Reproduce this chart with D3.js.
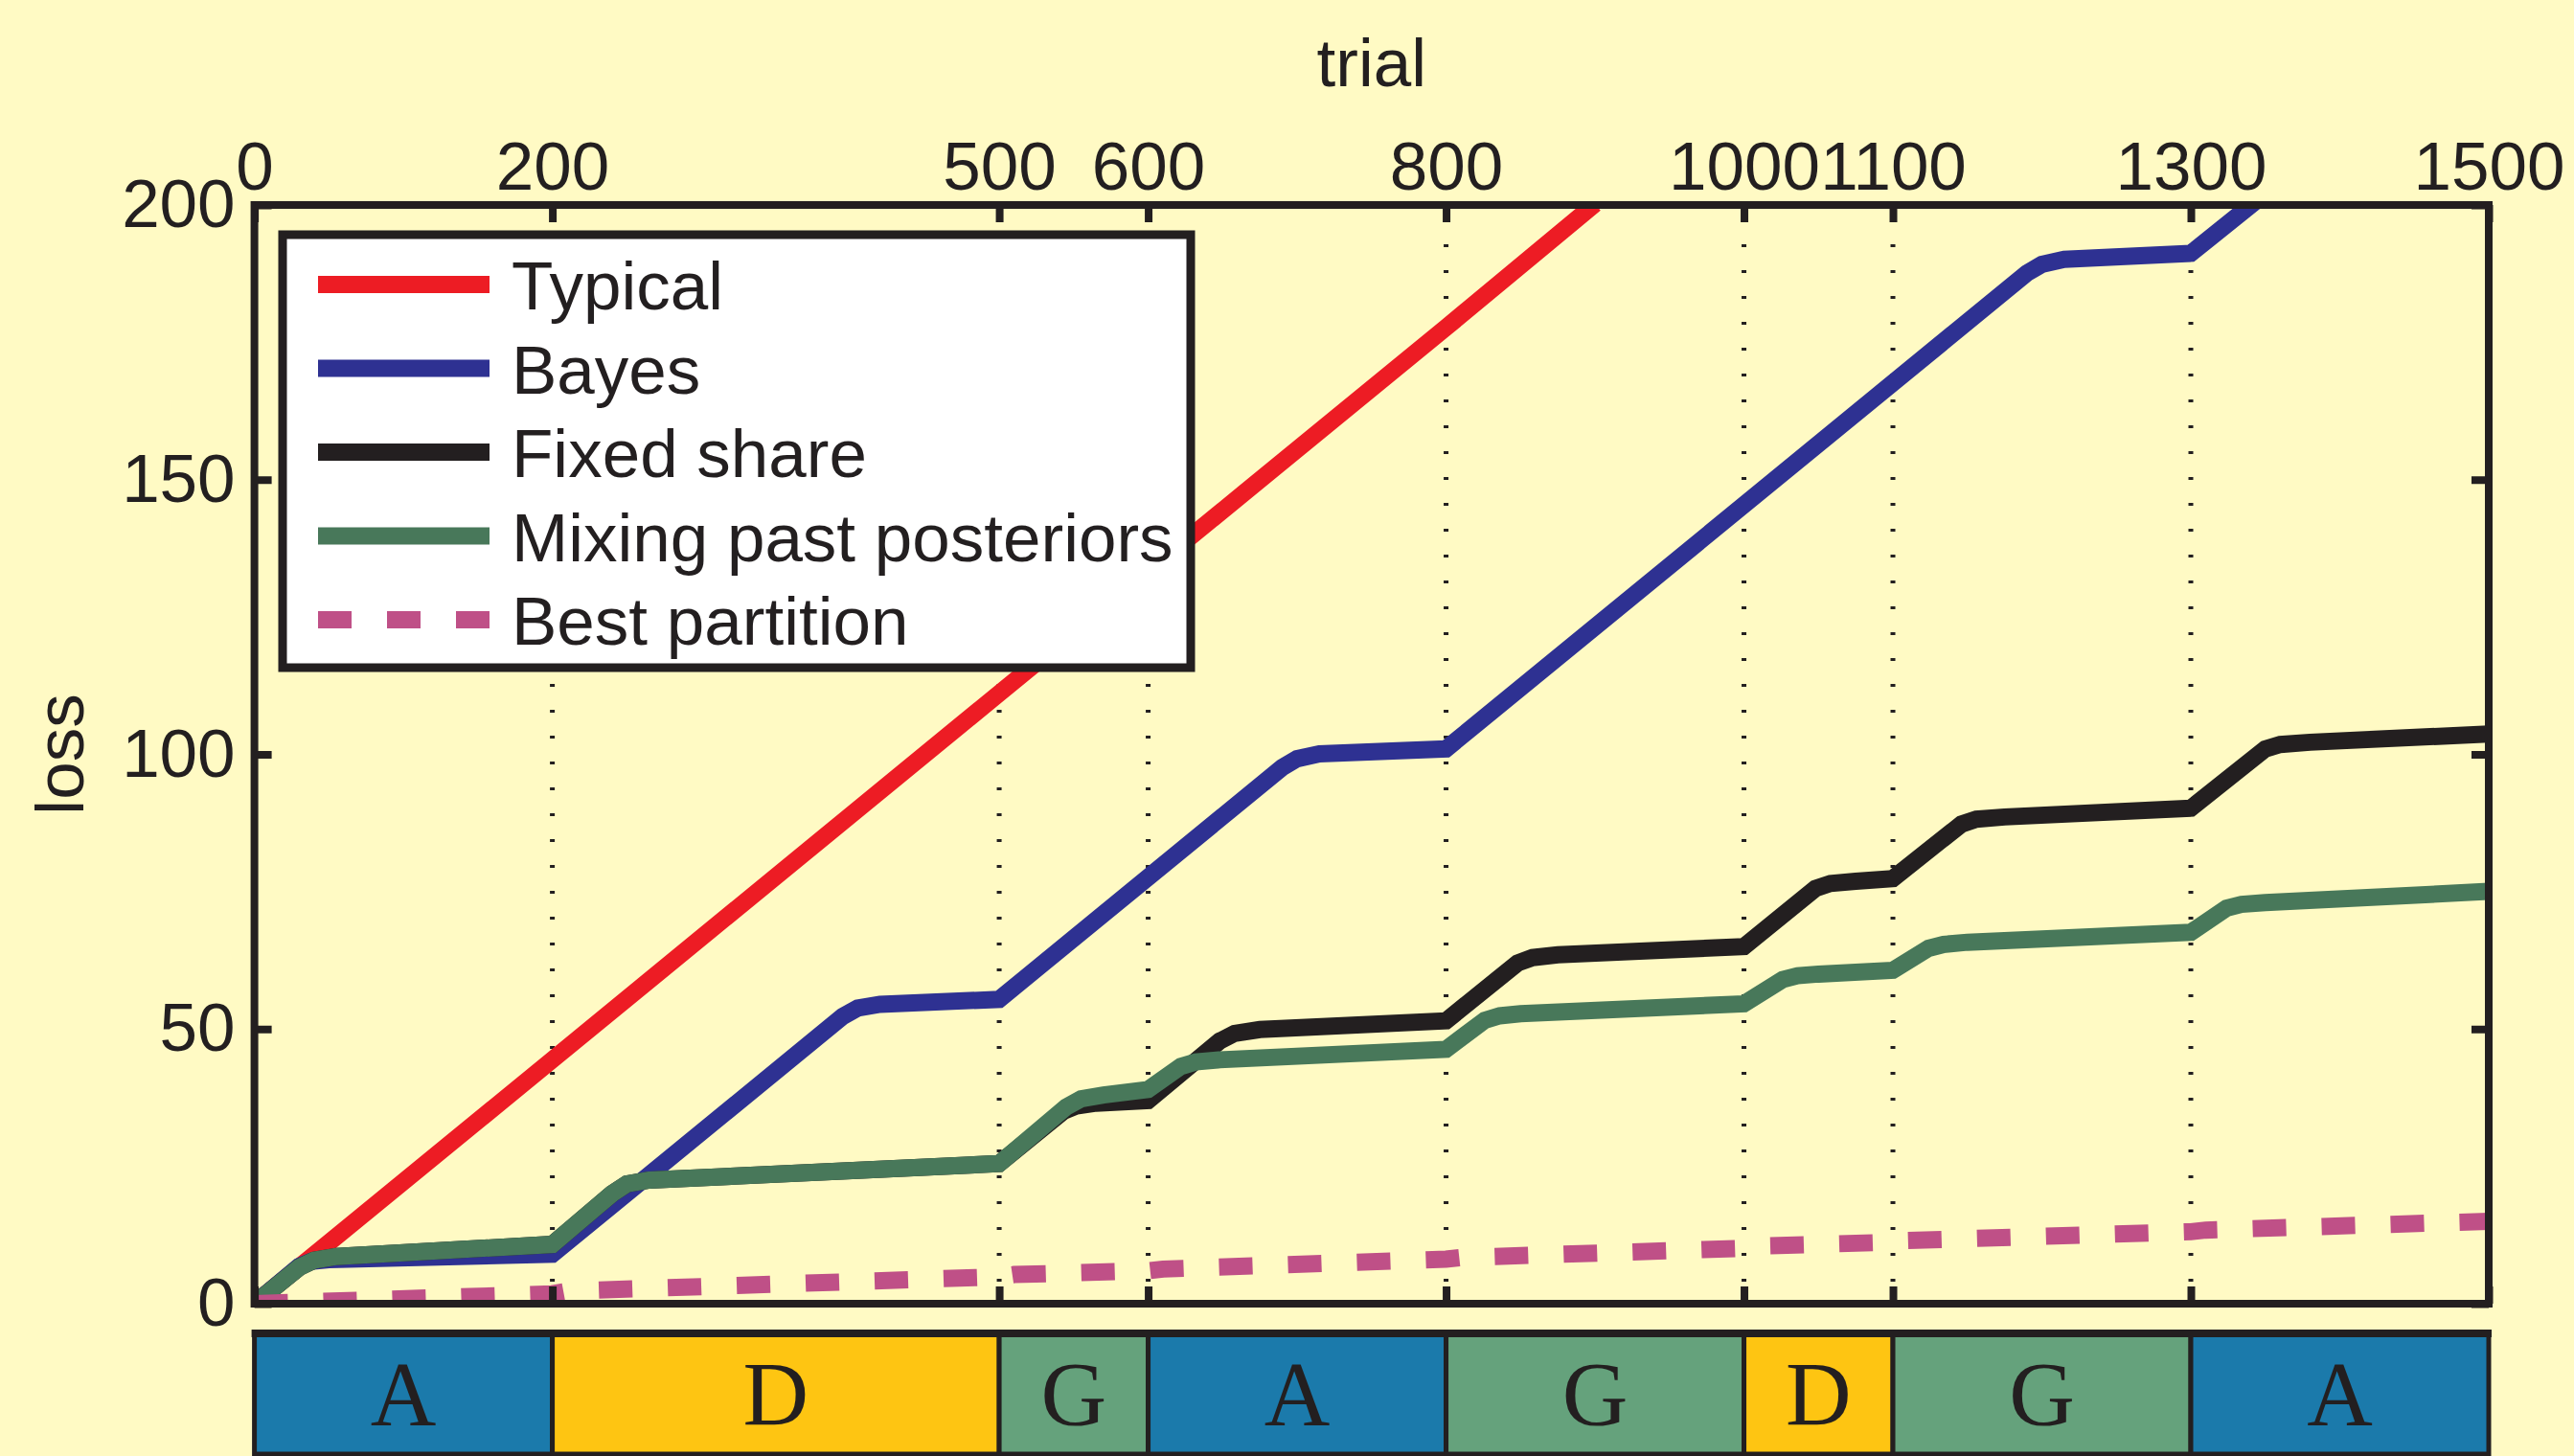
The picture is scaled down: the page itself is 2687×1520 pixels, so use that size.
<!DOCTYPE html>
<html>
<head>
<meta charset="utf-8">
<script src="https://cdn.jsdelivr.net/npm/d3@7"></script>
<style>
  html, body { margin: 0; padding: 0; background: #fffac4; }
  svg { display: block; }
</style>
</head>
<body>
<svg id="chart" width="2687" height="1520"></svg>
<script>
// ---------------- data ----------------
const xTicks = [0, 200, 500, 600, 800, 1000, 1100, 1300, 1500];
const yTicks = [0, 50, 100, 150, 200];
const boundaries = [200, 500, 600, 800, 1000, 1100, 1300];
const segmentEdges = [0, 200, 500, 600, 800, 1000, 1100, 1300, 1500];
const segmentLabels = ["A", "D", "G", "A", "G", "D", "G", "A"];
const segmentKinds  = ["A", "D", "G", "A", "G", "D", "G", "A"];

const seriesNames = ["Typical", "Bayes", "Fixed share", "Mixing past posteriors", "Best partition"];

const typical = [[0, 0], [200, 44.4], [500, 111.1], [800, 177.7], [900, 200.2]];

const bayes = [[0, 0], [30, 6.8], [38, 7.7], [50, 8.0], [200, 9.0], [395, 52.3], [405, 53.8], [420, 54.5],
  [500, 55.4], [690, 97.6], [700, 99.2], [715, 100.1], [800, 101.0], [1190, 187.6], [1200, 189.2],
  [1215, 190.1], [1300, 191.2], [1345, 201.0]];

const fixedShare = [[0, 0], [30, 6.6], [40, 7.9], [55, 8.6], [200, 10.8], [240, 20.0], [250, 21.8], [265, 22.5],
  [500, 25.5], [543, 35.0], [552, 36.0], [565, 36.5], [600, 37.0], [648, 47.8], [658, 49.2], [675, 49.9],
  [800, 51.5], [848, 62.0], [858, 63.0], [875, 63.5], [1000, 65.0], [1048, 75.6], [1058, 76.5], [1075, 76.9],
  [1100, 77.4], [1146, 87.3], [1156, 88.2], [1175, 88.6], [1300, 90.2], [1350, 101.0], [1360, 101.8],
  [1380, 102.2], [1500, 103.7]];

const mixing = [[0, 0], [30, 6.6], [40, 7.9], [55, 8.6], [200, 10.8], [240, 20.0], [250, 21.8], [265, 22.5],
  [500, 25.5], [545, 35.8], [555, 37.3], [570, 38.0], [600, 39.0], [622, 43.2], [632, 44.0], [648, 44.4],
  [800, 46.3], [826, 51.6], [836, 52.4], [850, 52.8], [1000, 54.6], [1026, 59.0], [1036, 59.7], [1050, 60.0],
  [1100, 60.7], [1124, 64.7], [1134, 65.4], [1150, 65.8], [1300, 67.6], [1324, 72.0], [1334, 72.7],
  [1350, 73.0], [1500, 75.05]];

const bestPartition = [[0, 0], [200, 1.8], [210, 2.3], [500, 4.9], [510, 5.3], [600, 6.0], [610, 6.3],
  [800, 8.1], [810, 8.4], [1000, 10.1], [1010, 10.5], [1100, 11.2], [1110, 11.5], [1300, 13.1],
  [1310, 13.4], [1500, 15.0]];

// ---------------- styling ----------------
const INK = "#231f20";
const FONT = "'Liberation Sans', Arial, Helvetica, sans-serif";
const seriesColors = ["#ed1c24", "#2e3192", "#231f20", "#48785a", "#bf5087"];
const kindColors = { A: "#1b7aab", D: "#fec512", G: "#65a27c" };

const L = 265.6, R = 2598, T = 214, B = 1361;

const svg = d3.select("#chart");
const x = d3.scaleLinear().domain([0, 1500]).range([L, R]);
const y = d3.scaleLinear().domain([0, 200]).range([B, T]);

svg.append("rect").attr("width", 2687).attr("height", 1520).attr("fill", "#fffac4");

svg.append("defs").append("clipPath").attr("id", "plotclip")
  .append("rect").attr("x", L).attr("y", T).attr("width", R - L).attr("height", B - T);

// dotted boundary lines
svg.append("g").selectAll("line").data(boundaries).join("line")
  .attr("x1", d => x(d)).attr("x2", d => x(d))
  .attr("y1", T + 14).attr("y2", B)
  .attr("stroke", INK).attr("stroke-width", 5)
  .attr("stroke-dasharray", "3 24");

// series
const line = d3.line().x(d => x(d[0])).y(d => y(d[1]));
const plot = svg.append("g").attr("clip-path", "url(#plotclip)");
const allSeries = [typical, bayes, fixedShare, mixing, bestPartition];
allSeries.forEach((s, i) => {
  plot.append("path").datum(s)
    .attr("d", line)
    .attr("fill", "none")
    .attr("stroke", seriesColors[i])
    .attr("stroke-width", 18)
    .attr("stroke-linejoin", "miter")
    .attr("stroke-linecap", "butt")
    .attr("stroke-dasharray", i === 4 ? "35 37" : null);
});

// axes
function styleAxis(g) {
  g.select(".domain").remove();
  g.selectAll(".tick line").attr("stroke", INK).attr("stroke-width", 8);
  g.selectAll(".tick text").attr("fill", INK).attr("font-family", FONT).attr("font-size", 71);
}
svg.append("g").attr("transform", `translate(0,${T})`)
  .call(d3.axisTop(x).tickValues(xTicks).tickSize(-18).tickPadding(16).tickFormat(d3.format("d")))
  .call(styleAxis)
  .selectAll(".tick text").attr("dy", "0");
svg.append("g").attr("transform", `translate(0,${B})`)
  .call(d3.axisBottom(x).tickValues(xTicks).tickSize(-18).tickFormat(""))
  .call(styleAxis);
svg.append("g").attr("transform", `translate(${L},0)`)
  .call(d3.axisLeft(y).tickValues(yTicks).tickSize(-18).tickPadding(20).tickFormat(d3.format("d")))
  .call(styleAxis);
svg.append("g").attr("transform", `translate(${R},0)`)
  .call(d3.axisRight(y).tickValues(yTicks).tickSize(-18).tickFormat(""))
  .call(styleAxis);

// frame
svg.append("rect").attr("x", L).attr("y", T).attr("width", R - L).attr("height", B - T)
  .attr("fill", "none").attr("stroke", INK).attr("stroke-width", 8);

// axis titles
svg.append("text").attr("x", (L + R) / 2).attr("y", 90)
  .attr("text-anchor", "middle").attr("font-family", FONT).attr("font-size", 71).attr("fill", INK)
  .text("trial");
svg.append("text").attr("transform", `translate(87,${(T + B) / 2}) rotate(-90)`)
  .attr("text-anchor", "middle").attr("font-family", FONT).attr("font-size", 71).attr("fill", INK)
  .text("loss");

// legend
const lg = svg.append("g");
lg.append("rect").attr("x", 295).attr("y", 245).attr("width", 948).attr("height", 452)
  .attr("fill", "#ffffff").attr("stroke", INK).attr("stroke-width", 9);
const legendY = d3.scalePoint().domain(seriesNames).range([297, 647]);
seriesNames.forEach((name, i) => {
  const cy = legendY(name);
  lg.append("line").attr("x1", 332).attr("x2", 511).attr("y1", cy).attr("y2", cy)
    .attr("stroke", seriesColors[i]).attr("stroke-width", 18)
    .attr("stroke-dasharray", i === 4 ? "35 37" : null);
  lg.append("text").attr("x", 534).attr("y", cy + 26)
    .attr("font-family", FONT).attr("font-size", 71).attr("fill", INK).text(name);
});

// segment bar
const barTop = 1392, barBottom = 1518;
const segs = segmentLabels.map((lab, i) => ({ lab, kind: segmentKinds[i], a: segmentEdges[i], b: segmentEdges[i + 1] }));
const bar = svg.append("g");
bar.selectAll("rect").data(segs).join("rect")
  .attr("x", d => x(d.a)).attr("y", barTop)
  .attr("width", d => x(d.b) - x(d.a)).attr("height", barBottom - barTop)
  .attr("fill", d => kindColors[d.kind])
  .attr("stroke", INK).attr("stroke-width", 5);
bar.append("line").attr("x1", L - 3).attr("x2", R + 3).attr("y1", barTop).attr("y2", barTop)
  .attr("stroke", INK).attr("stroke-width", 8);
bar.selectAll("text").data(segs).join("text")
  .attr("x", d => (x(d.a) + x(d.b)) / 2).attr("y", 1488)
  .attr("text-anchor", "middle")
  .attr("font-family", "'Liberation Serif', 'Times New Roman', serif")
  .attr("font-size", 95).attr("fill", INK)
  .text(d => d.lab);
</script>
</body>
</html>
